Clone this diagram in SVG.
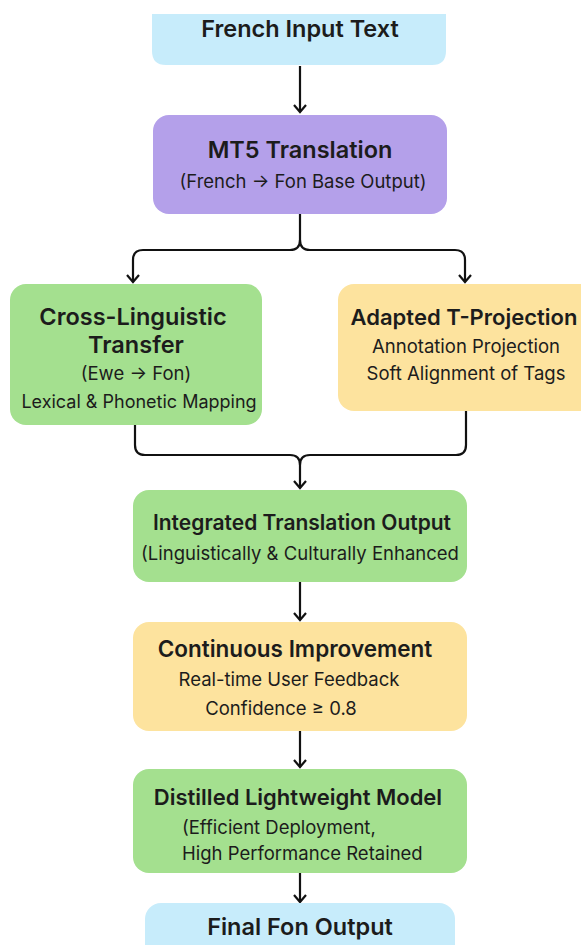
<svg xmlns="http://www.w3.org/2000/svg" width="581" height="945" viewBox="0 0 581 945">
<style>
.t{font-family:Inter,"Liberation Sans",sans-serif;font-weight:600;font-size:23.5px;fill:#1c1c1c;text-anchor:middle}
.s{font-family:Inter,"Liberation Sans",sans-serif;font-weight:400;font-size:18.5px;fill:#1c1c1c;text-anchor:middle}
.c{fill:none;stroke:#111;stroke-width:2.2;stroke-linejoin:round}
.blue{fill:#c7ecfb}.purple{fill:#b4a0ea}.green{fill:#a4e08f}.yellow{fill:#fde39e}
</style>
<defs>
<marker id="a" viewBox="-7 -8 14 10" refX="0" refY="0" markerWidth="14" markerHeight="10" markerUnits="userSpaceOnUse" orient="0">
<path d="M-6,-7 L0,0 L6,-7" fill="none" stroke="#111" stroke-width="2.2"/>
</marker>
</defs>
<rect width="581" height="945" fill="#ffffff"/>
<g id="connectors">
<path class="c" d="M300,66 V112" marker-end="url(#a)"/>
<path class="c" d="M300,214 V240 Q300,250 290,250 H143 Q133,250 133,260 V282" marker-end="url(#a)"/>
<path class="c" d="M300,240 Q300,250 310,250 H455 Q465,250 465,260 V282" marker-end="url(#a)"/>
<path class="c" d="M135,425 V445 Q135,455 145,455 H290 Q300,455 300,465 V488" marker-end="url(#a)"/>
<path class="c" d="M466,411 V445 Q466,455 456,455 H310 Q300,455 300,465"/>
<path class="c" d="M300,582 V620" marker-end="url(#a)"/>
<path class="c" d="M300,731 V767" marker-end="url(#a)"/>
<path class="c" d="M300,873 V902" marker-end="url(#a)"/>
</g>
<g id="french-input">
<path class="blue" d="M152,14 H446 V51 Q446,65 432,65 H166 Q152,65 152,51 Z"/>
<text class="t" x="300" y="37">French Input Text</text>
</g>
<g id="mt5">
<rect class="purple" x="153" y="115" width="294" height="99" rx="16"/>
<text class="t" x="300" y="158">MT5 Translation</text>
<text class="s" x="303" y="188">(French → Fon Base Output)</text>
</g>
<g id="cross-linguistic">
<rect class="green" x="10" y="284" width="252" height="141" rx="16"/>
<text class="t" x="133" y="325">Cross-Linguistic</text>
<text class="t" x="136" y="353">Transfer</text>
<text class="s" x="136" y="380">(Ewe → Fon)</text>
<text class="s" x="139" y="408" style="font-size:18px">Lexical &amp; Phonetic Mapping</text>
</g>
<g id="t-projection">
<rect class="yellow" x="338" y="284" width="260" height="127" rx="16"/>
<text class="t" x="464" y="325" style="font-size:22px">Adapted T-Projection</text>
<text class="s" x="466" y="353">Annotation Projection</text>
<text class="s" x="466" y="380">Soft Alignment of Tags</text>
</g>
<g id="integrated">
<rect class="green" x="133" y="490" width="334" height="92" rx="16"/>
<text class="t" x="302" y="530" style="font-size:21px">Integrated Translation Output</text>
<text class="s" x="300" y="560">(Linguistically &amp; Culturally Enhanced</text>
</g>
<g id="continuous">
<rect class="yellow" x="133" y="622" width="334" height="109" rx="16"/>
<text class="t" x="295" y="657" style="font-size:22.5px">Continuous Improvement</text>
<text class="s" x="289" y="686">Real-time User Feedback</text>
<text class="s" x="281" y="715">Confidence ≥ 0.8</text>
</g>
<g id="distilled">
<rect class="green" x="133" y="769" width="334" height="104" rx="16"/>
<text class="t" x="298" y="805" style="font-size:22px">Distilled Lightweight Model</text>
<text class="s" x="182" y="834" style="text-anchor:start">(Efficient Deployment,</text>
<text class="s" x="182" y="860" style="text-anchor:start">High Performance Retained</text>
</g>
<g id="final">
<rect class="blue" x="145" y="903" width="310" height="70" rx="16"/>
<text class="t" x="300" y="935">Final Fon Output</text>
</g>
</svg>
